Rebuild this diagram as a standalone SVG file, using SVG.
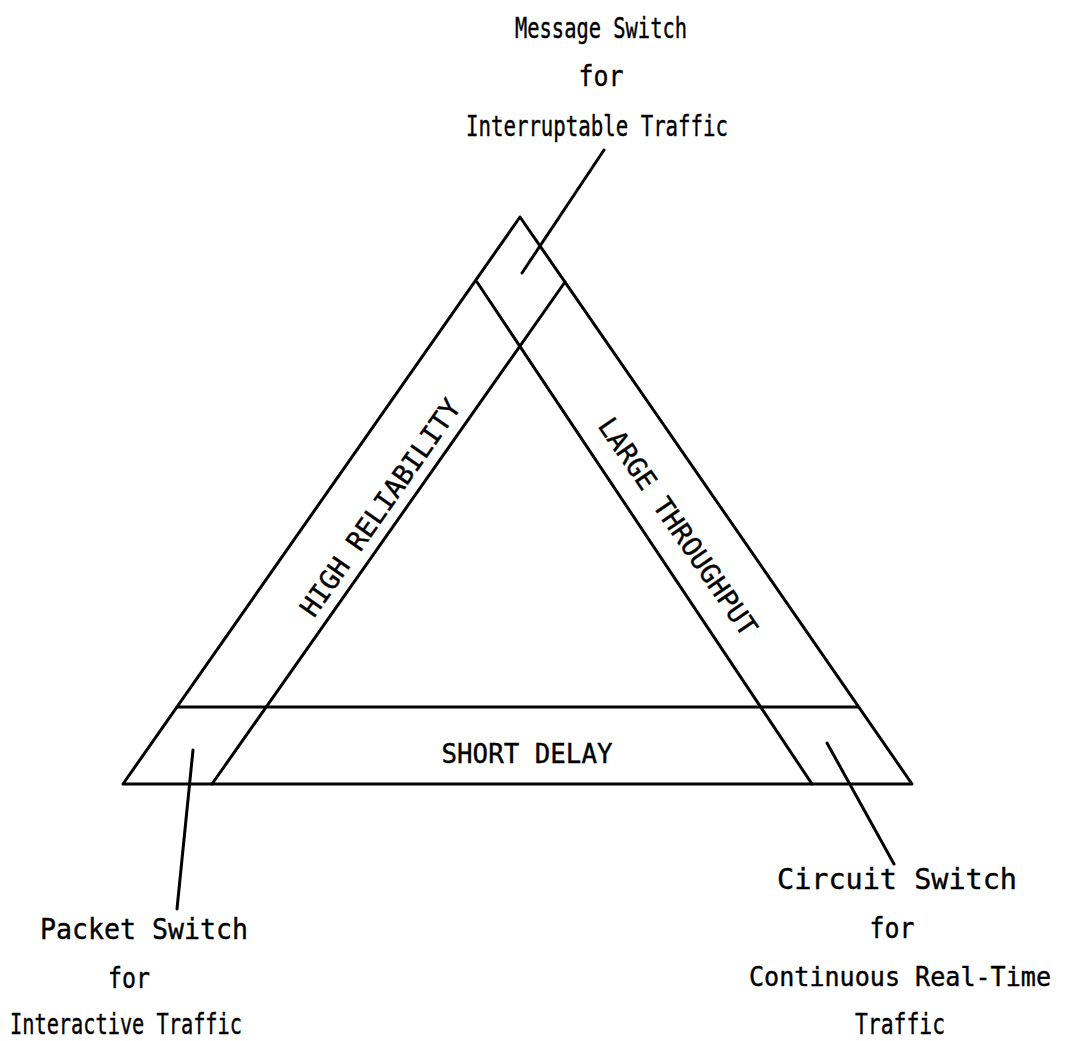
<svg xmlns="http://www.w3.org/2000/svg" width="1069" height="1041" viewBox="0 0 1069 1041">
<style>
.ln{stroke:#000;stroke-width:3;fill:none;stroke-linecap:round;stroke-linejoin:round}
.t{font-family:"DejaVu Sans Mono","Liberation Mono",monospace;font-size:28px;fill:#000;stroke:#000;stroke-width:0.4;text-anchor:middle}
.b{font-size:27px}
.c{font-size:26px}
</style>
<rect width="1069" height="1041" fill="#fff"/>
<g id="connectors">
<line class="ln" x1="522" y1="273" x2="604" y2="150"/>
<line class="ln" x1="193" y1="750" x2="177" y2="909"/>
<line class="ln" x1="827" y1="743" x2="894" y2="864"/>
</g>
<g id="triangle">
<polyline class="ln" points="123,784 520,217 912,784 123,784"/>
<line class="ln" x1="565" y1="282" x2="212" y2="784"/>
<line class="ln" x1="477" y1="282" x2="812" y2="784"/>
<line class="ln" x1="177" y1="707" x2="858" y2="707"/>
</g>
<g id="band-high-reliability">
<text class="t b" transform="translate(388,513) rotate(-55)" textLength="258" lengthAdjust="spacingAndGlyphs">HIGH RELIABILITY</text>
</g>
<g id="band-large-throughput">
<text class="t b" transform="translate(670,532) rotate(55.5)" textLength="258" lengthAdjust="spacingAndGlyphs">LARGE THROUGHPUT</text>
</g>
<g id="band-short-delay">
<text class="t b" x="527" y="763" textLength="171" lengthAdjust="spacingAndGlyphs">SHORT DELAY</text>
</g>
<g id="message-switch">
<text class="t" x="601" y="38" textLength="172" lengthAdjust="spacingAndGlyphs">Message Switch</text>
<text class="t" x="601" y="86" textLength="45" lengthAdjust="spacingAndGlyphs">for</text>
<text class="t" x="597" y="136" textLength="262" lengthAdjust="spacingAndGlyphs">Interruptable Traffic</text>
</g>
<g id="packet-switch">
<text class="t" x="144" y="939" textLength="208" lengthAdjust="spacingAndGlyphs">Packet Switch</text>
<text class="t" x="129" y="988" textLength="42" lengthAdjust="spacingAndGlyphs">for</text>
<text class="t" x="126" y="1034" textLength="232" lengthAdjust="spacingAndGlyphs">Interactive Traffic</text>
</g>
<g id="circuit-switch">
<text class="t" x="897" y="889" textLength="240" lengthAdjust="spacingAndGlyphs">Circuit Switch</text>
<text class="t" x="892" y="938" textLength="45" lengthAdjust="spacingAndGlyphs">for</text>
<text class="t c" x="900" y="986" textLength="302" lengthAdjust="spacingAndGlyphs">Continuous Real-Time</text>
<text class="t" x="900" y="1034" textLength="90" lengthAdjust="spacingAndGlyphs">Traffic</text>
</g>
</svg>
